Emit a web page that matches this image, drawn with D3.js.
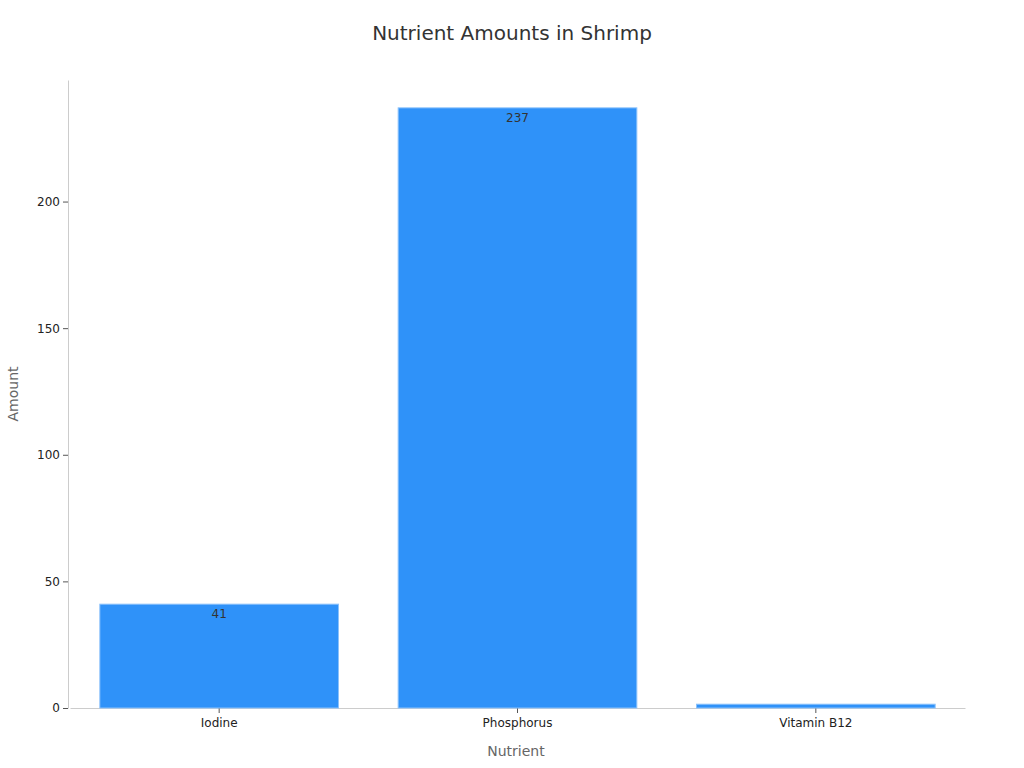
<!DOCTYPE html>
<html><head><meta charset="utf-8">
<script src="https://cdn.jsdelivr.net/npm/d3@7"></script>
<style>body{margin:0;background:#fff;font-family:"DejaVu Sans",sans-serif}</style>
</head><body><svg id="c" width="1024" height="768"></svg>
<script>
const categories = ["Iodine","Phosphorus","Vitamin B12"];
const values = [41,237,1.5];
const labels = ["41","237","1.5"];
const yTicks = [0,50,100,150,200];

const svg = d3.select("#c");
const m = {l:68,r:963,t:80,b:708};
const x = d3.scaleBand().domain(categories).range([m.l+2,m.r+2]).paddingInner(0.2).paddingOuter(0.1);
const y = d3.scaleLinear().domain([0,248]).range([m.b,m.t]);

svg.append("text").attr("x",512).attr("y",40).attr("text-anchor","middle")
  .attr("font-size",20).attr("fill","#333").text("Nutrient Amounts in Shrimp");

const ya = svg.append("g").attr("transform",`translate(${m.l},0)`)
  .call(d3.axisLeft(y).tickValues(yTicks).tickSize(5).tickSizeOuter(0));
ya.select(".domain").attr("stroke","#ccc");
ya.selectAll(".tick line").attr("stroke","#555");
ya.selectAll("text").attr("font-size",12).attr("fill","#222").attr("font-family","DejaVu Sans");

const xa = svg.append("g").attr("transform",`translate(0,${m.b})`)
  .call(d3.axisBottom(x).tickSize(5).tickSizeOuter(0));
xa.select(".domain").attr("stroke","#ccc");
xa.selectAll(".tick line").attr("stroke","#555");
xa.selectAll("text").attr("font-size",12).attr("fill","#222").attr("font-family","DejaVu Sans").attr("dy","0.9em");

const defs = svg.append("defs");
defs.selectAll("clipPath").data(values).join("clipPath").attr("id",(d,i)=>"cp"+i)
  .append("rect").attr("x",(d,i)=>x(categories[i])).attr("width",x.bandwidth())
  .attr("y",d=>y(d)).attr("height",d=>m.b-y(d));

svg.selectAll("rect.bar").data(values).join("rect").attr("class","bar")
  .attr("x",(d,i)=>x(categories[i])).attr("width",x.bandwidth())
  .attr("y",d=>y(d)).attr("height",d=>m.b-y(d))
  .attr("fill","#2f92f9").attr("stroke","#8cc2fb").attr("stroke-width",1);

svg.selectAll("text.lbl").data(values).join("text").attr("class","lbl")
  .attr("clip-path",(d,i)=>`url(#cp${i})`)
  .attr("x",(d,i)=>x(categories[i])+x.bandwidth()/2).attr("y",d=>y(d)+14)
  .attr("text-anchor","middle").attr("font-size",12).attr("fill","#333")
  .text((d,i)=>labels[i]);

svg.append("text").attr("x",516).attr("y",756).attr("text-anchor","middle")
  .attr("font-size",14).attr("fill","#666").text("Nutrient");
svg.append("text").attr("transform","translate(18,394) rotate(-90)").attr("text-anchor","middle")
  .attr("font-size",14).attr("fill","#666").text("Amount");
</script></body></html>
